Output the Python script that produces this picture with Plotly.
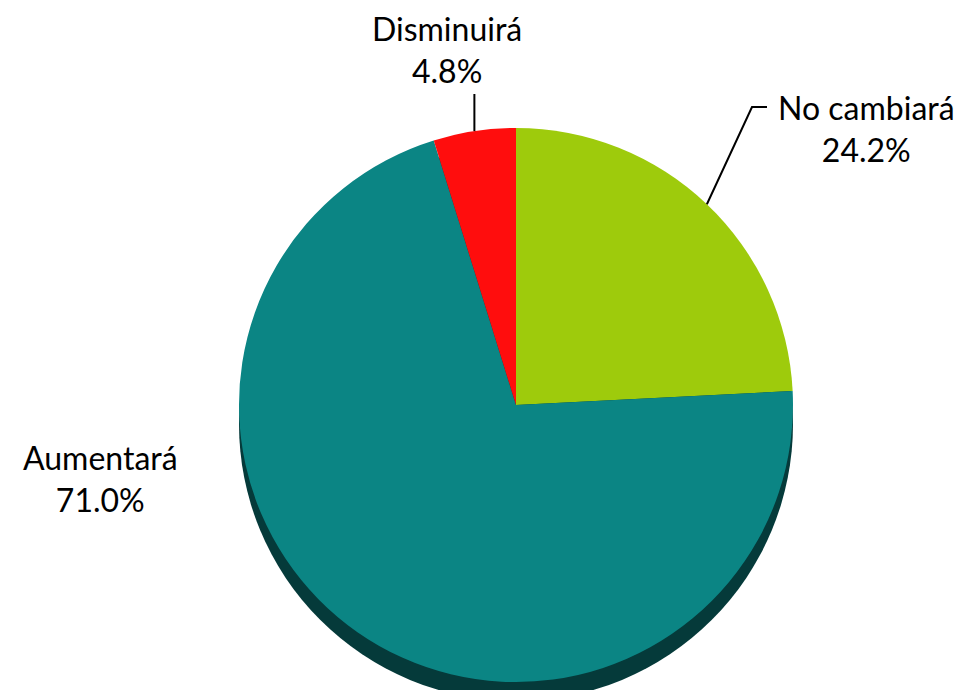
import math
import plotly.graph_objects as go

labels = ["No cambiará", "Aumentará", "Disminuirá"]
values = [24.2, 71.0, 4.8]
colors = ["#9ECB0C", "#0B8584", "#FF0D0D"]

OFF = 8  # page body margin
W, H = 967 - 2 * OFF, 698 - 2 * OFF
CX, CY, R = 516, 405, 277  # pixel geometry of the pie (window coords)
DEPTH = 19

def px(x):
    return (x - OFF) / W

def py(y):
    return 1 - (y - OFF) / H

fig = go.Figure()
fig.add_trace(go.Pie(
    labels=labels, values=values, sort=False, direction="clockwise", rotation=0,
    marker=dict(colors=colors, line=dict(width=0)),
    textinfo="none", hoverinfo="label+percent", showlegend=False,
    domain=dict(x=[px(CX - R), px(CX + R)], y=[py(CY + R), py(CY - R)]),
))

# 3D side edge
fig.add_shape(type="circle", xref="paper", yref="paper", layer="below",
              x0=px(CX - R), x1=px(CX + R), y0=py(CY + R + DEPTH), y1=py(CY - R + DEPTH),
              fillcolor="#053A3A", line=dict(width=0))

font = dict(family="Lato, Noto Sans, sans-serif", size=32, color="#000000")
total = sum(values)

def mid_point(i):
    cum = sum(values[:i]) + values[i] / 2
    a = 2 * math.pi * cum / total
    return CX + R * math.sin(a), CY - R * math.cos(a)

# label positions (pixel centres)
label_pos = {0: (866, 128), 1: (100, 478), 2: (447, 50)}
for i, (lx, ly) in label_pos.items():
    fig.add_annotation(x=px(lx), y=py(ly), xref="paper", yref="paper",
                       text=f"{labels[i]}<br>{values[i]:.1f}%", showarrow=False,
                       font=font, align="center", xanchor="center", yanchor="middle",
                       borderpad=0)

# leader lines
x0, y0 = mid_point(2)
fig.add_shape(type="path", xref="paper", yref="paper",
              path=f"M {px(x0)} {py(y0)} L {px(x0)} {py(94)}",
              line=dict(color="black", width=2))
x0, y0 = mid_point(0)
fig.add_shape(type="path", xref="paper", yref="paper",
              path=f"M {px(x0)} {py(y0)} L {px(752)} {py(107)} L {px(767)} {py(107)}",
              line=dict(color="black", width=2))

fig.update_layout(width=W, height=H, margin=dict(l=0, r=0, t=0, b=0),
                  paper_bgcolor="white", plot_bgcolor="white")
fig.write_html("out.html")
